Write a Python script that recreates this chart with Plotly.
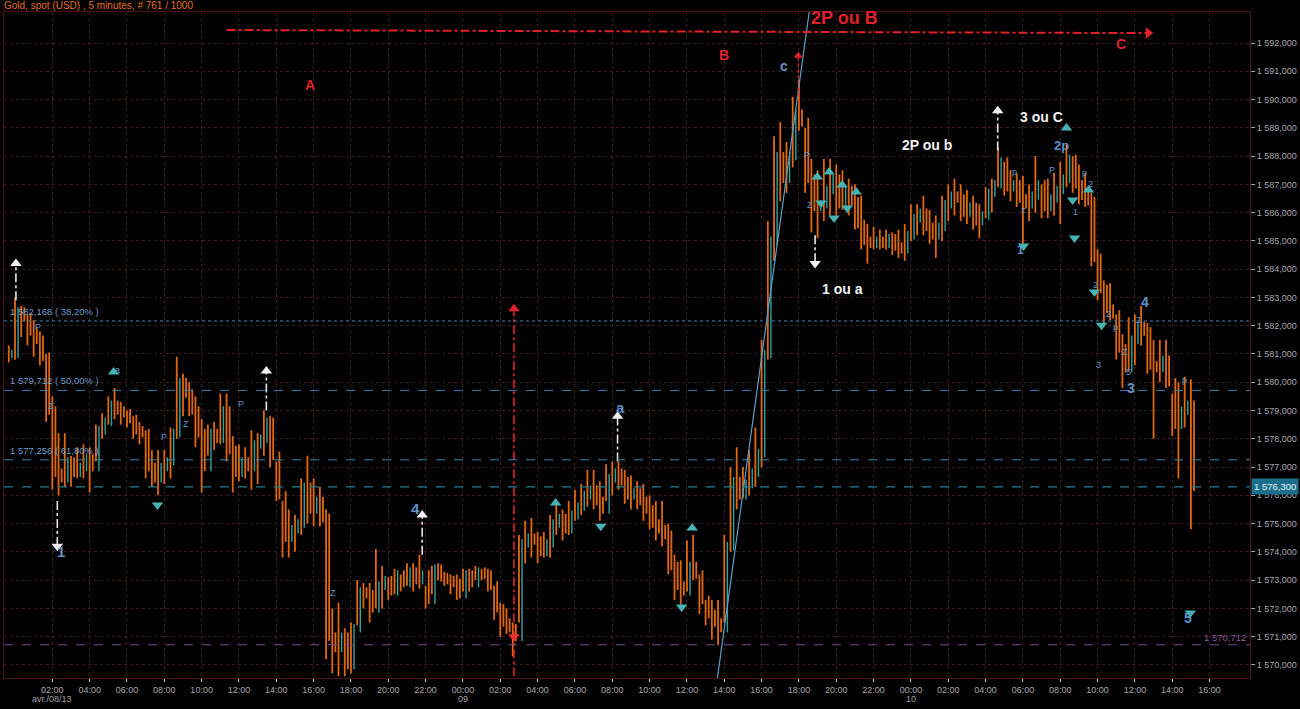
import plotly.graph_objects as go
import pandas as pd

# ---------------- DATA (20-minute bars) ----------------
bar_start = "2013-04-07 23:40"
bar_step = "20min"

bar_high = [
    1581.3, 1583.0, 1582.7, 1582.4, 1582.2, 1581.8, 1581.0, 1579.5, 1578.2, 1578.2,
    1577.4, 1577.7, 1577.8, 1577.7, 1578.5, 1578.9, 1579.5, 1579.8, 1579.3, 1579.0,
    1578.8, 1578.6, 1578.3, 1577.6, 1577.6, 1577.6, 1578.4, 1580.9, 1580.3, 1580.0,
    1579.5, 1578.7, 1578.5, 1578.6, 1579.6, 1579.6, 1578.1, 1577.8, 1577.7, 1578.3,
    1578.2, 1579.0, 1578.8, 1577.2, 1575.8, 1575.5, 1575.3, 1576.6, 1577.4, 1576.6,
    1576.3, 1575.5, 1572.0, 1572.2, 1571.3, 1571.5, 1573.0, 1572.9, 1572.9, 1574.1,
    1573.5, 1573.1, 1573.4, 1573.2, 1573.6, 1573.6, 1573.9, 1572.8, 1573.5, 1573.6,
    1573.3, 1573.2, 1573.2, 1573.4, 1573.4, 1573.5, 1573.4, 1573.4, 1572.8, 1572.2,
    1572.0, 1571.5, 1574.6, 1575.1, 1575.2, 1574.7, 1574.7, 1575.3, 1575.8, 1575.5,
    1575.8, 1576.2, 1576.4, 1576.9, 1576.9, 1576.5, 1577.1, 1577.2, 1577.2, 1576.9,
    1576.7, 1576.5, 1576.4, 1576.0, 1575.8, 1575.8, 1575.0, 1573.9, 1573.7, 1574.4,
    1574.6, 1573.2, 1572.3, 1572.3, 1572.3, 1574.6, 1577.0, 1577.7, 1577.0, 1577.6,
    1578.4, 1581.5, 1585.7, 1588.7, 1589.2, 1588.5, 1590.1, 1590.7, 1589.0, 1587.9,
    1587.5, 1587.9, 1587.9, 1587.7, 1587.5, 1587.2, 1587.0, 1586.6, 1585.6, 1585.5,
    1585.4, 1585.4, 1585.3, 1585.4, 1585.6, 1586.3, 1586.3, 1586.6, 1586.1, 1585.9,
    1586.6, 1587.0, 1587.2, 1587.0, 1586.8, 1586.6, 1586.3, 1586.9, 1587.2, 1588.3,
    1587.8, 1587.5, 1587.4, 1587.3, 1587.0, 1588.0, 1587.0, 1587.2, 1587.4, 1587.8,
    1588.4, 1588.0, 1587.7, 1587.4, 1586.7, 1584.7, 1583.6, 1583.5, 1582.4, 1581.7,
    1582.3, 1582.4, 1582.7, 1582.1, 1581.5, 1581.5, 1581.5, 1579.6, 1580.0, 1580.2,
    1580.1,
]
bar_low = [
    1580.7, 1580.8, 1581.6, 1581.3, 1580.9, 1580.6, 1578.6, 1576.2, 1576.0, 1576.3,
    1576.3, 1576.6, 1576.6, 1576.1, 1577.2, 1578.0, 1578.5, 1578.7, 1578.5, 1578.4,
    1578.0, 1577.8, 1576.6, 1576.3, 1576.0, 1576.4, 1576.6, 1578.0, 1578.8, 1578.8,
    1577.7, 1576.1, 1577.4, 1577.6, 1577.8, 1577.2, 1576.1, 1576.5, 1576.6, 1576.2,
    1576.4, 1577.4, 1577.0, 1575.8, 1573.8, 1573.8, 1574.0, 1574.6, 1575.0, 1574.9,
    1574.9, 1570.2, 1569.7, 1569.6, 1569.6, 1569.7, 1571.4, 1572.0, 1571.5, 1572.0,
    1572.0, 1572.3, 1572.5, 1572.6, 1572.8, 1572.6, 1572.7, 1572.0, 1572.5, 1573.0,
    1572.8, 1572.5, 1572.3, 1572.6, 1572.6, 1573.0, 1573.0, 1572.6, 1571.6, 1571.0,
    1571.1, 1570.3, 1571.5, 1573.6, 1573.8, 1573.6, 1573.8, 1573.8, 1574.6, 1574.4,
    1574.6, 1575.1, 1575.3, 1575.6, 1575.5, 1575.1, 1575.8, 1576.0, 1576.2, 1575.7,
    1575.5, 1575.5, 1575.1, 1574.8, 1574.4, 1574.2, 1573.2, 1572.3, 1572.1, 1572.6,
    1573.0, 1571.8, 1571.4, 1570.9, 1570.7, 1571.5, 1574.0, 1575.5, 1575.9, 1576.0,
    1576.3, 1577.0, 1580.8, 1584.3, 1586.4, 1586.7, 1587.6, 1588.9, 1586.7, 1585.3,
    1585.1, 1585.7, 1585.9, 1585.9, 1586.1, 1585.9, 1585.4, 1584.7, 1584.2, 1584.7,
    1584.7, 1584.7, 1584.5, 1584.4, 1584.3, 1585.0, 1585.2, 1585.2, 1584.9, 1584.4,
    1585.0, 1585.7, 1585.9, 1585.7, 1585.6, 1585.4, 1585.1, 1585.8, 1586.0, 1586.9,
    1586.6, 1586.4, 1586.2, 1584.9, 1585.7, 1586.0, 1585.8, 1585.8, 1585.9, 1585.6,
    1586.9, 1586.7, 1586.3, 1586.2, 1584.1, 1582.9, 1582.0, 1582.2, 1580.8, 1579.8,
    1580.4, 1580.6, 1581.3, 1580.3, 1578.0, 1580.0, 1579.8, 1578.1, 1576.6, 1578.4,
    1574.8,
]
bar_close = [
    1581.0, 1582.5, 1582.3, 1581.8, 1581.5, 1580.9, 1579.0, 1576.8, 1576.6, 1577.2,
    1576.8, 1577.0, 1577.3, 1577.0, 1578.3, 1578.6, 1579.2, 1579.0, 1578.9, 1578.7,
    1578.3, 1578.2, 1577.0, 1576.6, 1577.0, 1577.2, 1578.2, 1580.0, 1579.6, 1579.0,
    1578.2, 1577.0, 1578.2, 1578.0, 1579.0, 1577.6, 1576.8, 1577.2, 1577.0, 1577.8,
    1578.0, 1578.6, 1577.4, 1576.0, 1574.5, 1574.8, 1575.0, 1576.3, 1575.5, 1575.8,
    1575.2, 1571.0, 1570.6, 1571.0, 1570.0, 1571.3, 1572.6, 1572.5, 1572.0, 1572.8,
    1573.0, 1572.6, 1573.2, 1572.9, 1573.3, 1573.0, 1573.2, 1572.3, 1573.4, 1573.1,
    1573.0, 1572.9, 1572.5, 1573.2, 1572.9, 1573.3, 1573.2, 1572.8, 1572.0, 1571.5,
    1571.3, 1571.0, 1574.3, 1574.5, 1574.4, 1574.0, 1574.3, 1575.0, 1575.2, 1574.8,
    1575.3, 1575.6, 1576.0, 1576.2, 1575.8, 1575.5, 1576.6, 1576.8, 1576.5, 1576.0,
    1576.1, 1575.8, 1575.5, 1575.0, 1574.8, 1574.6, 1573.5, 1572.8, 1572.6, 1573.5,
    1573.2, 1572.3, 1571.8, 1571.5, 1571.3, 1574.2, 1576.5, 1576.0, 1576.4, 1576.8,
    1577.5, 1581.0, 1585.0, 1588.0, 1587.2, 1588.0, 1589.5, 1589.2, 1587.2, 1586.2,
    1586.3, 1586.8, 1587.2, 1586.3, 1586.8, 1586.4, 1585.6, 1585.0, 1584.9, 1585.0,
    1584.9, 1585.1, 1584.8, 1584.7, 1585.2, 1585.8, 1586.0, 1585.5, 1585.2, 1585.5,
    1586.3, 1586.6, 1586.5, 1586.0, 1586.2, 1585.7, 1585.9, 1586.7, 1587.0, 1587.8,
    1586.9, 1587.0, 1586.5, 1586.3, 1586.6, 1587.0, 1586.2, 1586.5, 1586.8, 1587.2,
    1587.9, 1587.0, 1586.6, 1586.4, 1584.4, 1583.3, 1582.6, 1582.4, 1581.2, 1580.5,
    1581.5, 1582.0, 1581.8, 1580.6, 1580.5, 1580.8, 1580.0, 1578.5, 1579.0, 1579.2,
    1576.3,
]

# Fibonacci / reference levels
fib_levels = [1582.168, 1579.712, 1577.256, 1569.343]
fib_labels = ["1 582,168 ( 38,20% )", "1 579,712 ( 50,00% )",
              "1 577,256 ( 61,80% )", "1 569,343 ( 38,20% )"]
last_price = 1576.300
target_level = 1570.712

# y tick values
y_ticks = list(range(1570, 1593))

# x tick times
x_ticks = pd.date_range("2013-04-08 02:00", "2013-04-10 16:00", freq="2h")
day_labels = [("2013-04-08 02:00", "avr./08/13"), ("2013-04-09 00:00", "09"), ("2013-04-10 00:00", "10")]

# dash-dot white arrows (time, from price, to price)
white_arrows = [
    ("2013-04-08 00:03", 1582.9, 1584.2),
    ("2013-04-08 02:16", 1575.8, 1574.2),
    ("2013-04-08 13:28", 1579.0, 1580.4),
    ("2013-04-08 21:49", 1573.9, 1575.3),
    ("2013-04-09 08:17", 1577.2, 1578.8),
    ("2013-04-09 18:52", 1585.2, 1584.2),
    ("2013-04-10 04:39", 1588.2, 1589.6),
]

# teal signal triangles (time, price)
tri_up = [
    ("2013-04-08 05:17", 1580.36), ("2013-04-09 04:58", 1575.73), ("2013-04-09 12:17", 1574.84),
    ("2013-04-09 18:59", 1587.26), ("2013-04-09 19:37", 1587.44), ("2013-04-09 20:19", 1586.98),
    ("2013-04-09 21:04", 1586.73), ("2013-04-10 08:20", 1588.99), ("2013-04-10 09:31", 1586.80),
]
tri_down = [
    ("2013-04-08 07:38", 1575.66), ("2013-04-09 07:23", 1574.91), ("2013-04-09 11:43", 1572.05),
    ("2013-04-09 19:11", 1586.34), ("2013-04-09 19:53", 1585.81), ("2013-04-09 20:35", 1586.16),
    ("2013-04-10 06:02", 1584.82), ("2013-04-10 08:40", 1586.45), ("2013-04-10 08:46", 1585.10),
    ("2013-04-10 09:50", 1583.19), ("2013-04-10 10:13", 1582.02), ("2013-04-10 14:58", 1571.84),
]

# wave labels: (text, time, price, colour, size, bold)
RED, WHITE, BLUE = "#e0202a", "#f0f0f0", "#5f93c8"
wave_labels = [
    ("A", "2013-04-08 15:49", 1590.50, RED, 14, True),
    ("B", "2013-04-09 14:00", 1591.58, RED, 14, True),
    ("C", "2013-04-10 11:14", 1591.95, RED, 14, True),
    ("2P ou B", "2013-04-09 20:25", 1592.88, RED, 18, True),
    ("1 ou a", "2013-04-09 20:19", 1583.30, WHITE, 14, True),
    ("2P ou b", "2013-04-10 00:52", 1588.39, WHITE, 14, True),
    ("3 ou C", "2013-04-10 07:00", 1589.38, WHITE, 14, True),
    ("c", "2013-04-09 17:13", 1591.19, BLUE, 14, True),
    ("1", "2013-04-08 02:28", 1574.00, BLUE, 15, True),
    ("4", "2013-04-08 21:26", 1575.55, BLUE, 15, True),
    ("a", "2013-04-09 08:27", 1579.12, BLUE, 15, True),
    ("2p", "2013-04-10 08:04", 1588.36, BLUE, 13, True),
    ("4", "2013-04-10 12:31", 1582.84, BLUE, 14, True),
    ("3", "2013-04-10 11:46", 1579.80, BLUE, 14, True),
    ("5", "2013-04-10 14:52", 1571.66, BLUE, 14, True),
    ("1", "2013-04-10 05:53", 1584.68, BLUE, 12, True),
    ("P", "2013-04-08 01:14", 1581.95, BLUE, 9, False),
    ("Z", "2013-04-08 01:56", 1579.16, BLUE, 9, False),
    ("a", "2013-04-08 05:30", 1580.45, BLUE, 9, False),
    ("P", "2013-04-08 07:58", 1578.06, BLUE, 9, False),
    ("Z", "2013-04-08 09:11", 1578.52, BLUE, 9, False),
    ("P", "2013-04-08 12:05", 1579.23, BLUE, 9, False),
    ("Z", "2013-04-08 17:03", 1572.54, BLUE, 9, False),
    ("P", "2013-04-09 18:26", 1588.04, BLUE, 9, False),
    ("Z", "2013-04-09 18:36", 1586.27, BLUE, 9, False),
    ("p", "2013-04-10 05:34", 1587.44, BLUE, 9, False),
    ("z", "2013-04-10 06:02", 1586.09, BLUE, 9, False),
    ("P", "2013-04-10 07:32", 1587.51, BLUE, 9, False),
    ("p", "2013-04-10 09:18", 1587.40, BLUE, 9, False),
    ("2", "2013-04-10 09:37", 1587.01, BLUE, 9, False),
    ("1", "2013-04-10 08:49", 1586.02, BLUE, 9, False),
    ("2", "2013-04-10 09:53", 1583.45, BLUE, 9, False),
    ("Z", "2013-04-10 10:38", 1582.40, BLUE, 9, False),
    ("p", "2013-04-10 10:59", 1581.97, BLUE, 9, False),
    ("3", "2013-04-10 10:03", 1580.60, BLUE, 9, False),
    ("Z", "2013-04-10 12:14", 1582.20, BLUE, 9, False),
    ("Z", "2013-04-10 11:29", 1581.07, BLUE, 9, False),
    ("5", "2013-04-10 11:39", 1580.35, BLUE, 9, False),
    ("p", "2013-04-10 14:39", 1580.08, BLUE, 9, False),
]

# red projection lines
red_h_line = [("2013-04-08 11:20", 1592.46), ("2013-04-10 12:43", 1592.35)]
red_v_arrow = ("2013-04-09 02:44", 1569.60, 1582.60)
red_v_mark = ("2013-04-09 02:44", 1571.00)
red_top_arrow = ("2013-04-09 17:58", 1589.90, 1591.55)
trend_line = [("2013-04-09 13:38", 1569.54), ("2013-04-09 18:33", 1593.10)]

# ---------------- FIGURE ----------------
ORANGE = "#e2680f"
TEAL = "#2fa3a3"
TRI = "#46b4b4"
FONT = "Liberation Sans"

times = pd.date_range(bar_start, periods=len(bar_close), freq=bar_step)
body_shift = pd.Timedelta(minutes=10)
bar_open = [bar_close[0]] + bar_close[:-1]

fig = go.Figure()

hl_x, hl_y = [], []
up_x, up_y, dn_x, dn_y = [], [], [], []
for t, o, h, l, c in zip(times, bar_open, bar_high, bar_low, bar_close):
    hl_x += [t, t, None]
    hl_y += [l, h, None]
    tb = t + body_shift
    if c >= o:
        up_x += [tb, tb, None]
        up_y += [min(o, c) - 0.15, max(o, c) + 0.15, None]
    else:
        dn_x += [tb, tb, None]
        dn_y += [min(o, c) - 0.15, max(o, c) + 0.15, None]

fig.add_trace(go.Scatter(x=hl_x, y=hl_y, mode="lines", line=dict(color=ORANGE, width=1.8), hoverinfo="skip"))
fig.add_trace(go.Scatter(x=dn_x, y=dn_y, mode="lines", line=dict(color=ORANGE, width=1.8), hoverinfo="skip"))
fig.add_trace(go.Scatter(x=up_x, y=up_y, mode="lines", line=dict(color=TEAL, width=1.4), hoverinfo="skip"))

# trend line
fig.add_trace(go.Scatter(x=[p[0] for p in trend_line], y=[p[1] for p in trend_line], mode="lines",
                         line=dict(color="#5aa0c8", width=1.2), hoverinfo="skip"))

# red horizontal projection
fig.add_trace(go.Scatter(x=[p[0] for p in red_h_line], y=[p[1] for p in red_h_line], mode="lines",
                         line=dict(color=RED, width=2, dash="dashdot"), hoverinfo="skip"))
fig.add_trace(go.Scatter(x=[red_h_line[1][0]], y=[red_h_line[1][1]], mode="markers",
                         marker=dict(symbol="triangle-right", size=10, color=RED), hoverinfo="skip"))

# red vertical arrow
fig.add_trace(go.Scatter(x=[red_v_arrow[0]] * 2, y=[red_v_arrow[1], red_v_arrow[2]], mode="lines",
                         line=dict(color=RED, width=1.6, dash="dashdot"), hoverinfo="skip"))
fig.add_trace(go.Scatter(x=[red_v_arrow[0]], y=[red_v_arrow[2]], mode="markers",
                         marker=dict(symbol="triangle-up", size=10, color=RED), hoverinfo="skip"))
fig.add_trace(go.Scatter(x=[red_v_mark[0]], y=[red_v_mark[1]], mode="markers",
                         marker=dict(symbol="triangle-down", size=10, color="#e83030"), hoverinfo="skip"))

# red small arrow at top
fig.add_trace(go.Scatter(x=[red_top_arrow[0]] * 2, y=[red_top_arrow[1], red_top_arrow[2]], mode="lines",
                         line=dict(color=RED, width=1.5, dash="dot"), hoverinfo="skip"))
fig.add_trace(go.Scatter(x=[red_top_arrow[0]], y=[red_top_arrow[2]], mode="markers",
                         marker=dict(symbol="triangle-up", size=8, color=RED), hoverinfo="skip"))

# white dash-dot arrows
for t, p0, p1 in white_arrows:
    fig.add_trace(go.Scatter(x=[t, t], y=[p0, p1], mode="lines",
                             line=dict(color="#e6e6e6", width=1.6, dash="dashdot"), hoverinfo="skip"))
    fig.add_trace(go.Scatter(x=[t], y=[p1], mode="markers",
                             marker=dict(symbol="triangle-up" if p1 > p0 else "triangle-down",
                                         size=10, color="#f2f2f2"), hoverinfo="skip"))

# teal triangles
fig.add_trace(go.Scatter(x=[p[0] for p in tri_up], y=[p[1] for p in tri_up], mode="markers",
                         marker=dict(symbol="triangle-up", size=10, color=TRI), hoverinfo="skip"))
fig.add_trace(go.Scatter(x=[p[0] for p in tri_down], y=[p[1] for p in tri_down], mode="markers",
                         marker=dict(symbol="triangle-down", size=10, color=TRI), hoverinfo="skip"))

shapes = []
annotations = []

# fib lines + labels
fib_dash = ["dot", "dash", "dash", "dash"]
for lvl, lab, dsh in zip(fib_levels, fib_labels, fib_dash):
    shapes.append(dict(type="line", xref="paper", x0=0, x1=1, yref="y", y0=lvl, y1=lvl,
                       line=dict(color="#3b82ad", width=1, dash=dsh)))
    color = "#22c022" if lvl < 1570 else "#6f9cc8"
    annotations.append(dict(text=lab, xref="paper", x=0.003, xanchor="left", yref="y", y=lvl,
                            yanchor="bottom", yshift=2, showarrow=False,
                            font=dict(family=FONT, size=9.5, color=color)))

# last price line and label
shapes.append(dict(type="line", xref="paper", x0=0, x1=1, yref="y", y0=last_price, y1=last_price,
                   line=dict(color="#237f92", width=1.2, dash="dash")))
annotations.append(dict(text="1 576,300", xref="paper", x=1, xanchor="left", xshift=1,
                        yref="y", y=last_price, showarrow=False, bgcolor="#1c6f8c",
                        font=dict(family=FONT, size=9.5, color="#e8f4f8"), borderpad=2))

# target level
shapes.append(dict(type="line", xref="paper", x0=0, x1=1, yref="y", y0=target_level, y1=target_level,
                   line=dict(color="#7a4a8c", width=1, dash="dash")))
annotations.append(dict(text="1 570,712", xref="paper", x=0.998, xanchor="right", yref="y", y=target_level,
                        yanchor="bottom", yshift=0, showarrow=False,
                        font=dict(family=FONT, size=9.5, color="#8a5a9c")))

# wave labels
for txt, t, p, col, sz, bold in wave_labels:
    annotations.append(dict(text=f"<b>{txt}</b>" if bold else txt, x=t, y=p, xref="x", yref="y",
                            showarrow=False, font=dict(family=FONT, size=sz, color=col)))

# title
annotations.append(dict(text="Gold, spot (USD) , 5 minutes, # 761 / 1000", xref="paper", x=0, xanchor="left",
                        yref="paper", y=1, yanchor="bottom", yshift=-1, xshift=-2, showarrow=False,
                        font=dict(family=FONT, size=10, color="#e07020")))

# day labels
for t, lab in day_labels:
    annotations.append(dict(text=lab, x=t, xref="x", yref="paper", y=0, yanchor="top", yshift=-14,
                            showarrow=False, font=dict(family=FONT, size=9, color="#a0a0a0")))

def fmt_price(v):
    s = f"{v:,.3f}"
    return s.replace(",", " ").replace(".", ",")

fig.update_layout(
    width=1300, height=709,
    margin=dict(l=3, r=48, t=12, b=31),
    paper_bgcolor="black", plot_bgcolor="black",
    showlegend=False,
    shapes=shapes, annotations=annotations,
    xaxis=dict(type="date", range=["2013-04-07 23:24:40", "2013-04-10 18:10:00"],
               tickvals=list(x_ticks), tickformat="%H:%M",
               showgrid=True, gridcolor="#3a1d1d", griddash="dot", gridwidth=1,
               ticks="outside", ticklen=3, tickcolor="#c8c8c8",
               tickfont=dict(family=FONT, size=9, color="#a8a8a8"),
               showline=True, linecolor="#4e1414", mirror=True, zeroline=False),
    yaxis=dict(side="right", range=[1569.538, 1593.097],
               tickvals=y_ticks, ticktext=[fmt_price(v) for v in y_ticks],
               showgrid=True, gridcolor="#3a1d1d", griddash="dot", gridwidth=1,
               ticks="outside", ticklen=4, tickcolor="#a0a0a0",
               tickfont=dict(family=FONT, size=9, color="#a8a8a8"),
               showline=True, linecolor="#4e1414", mirror=True, zeroline=False),
)

fig.write_html("out.html", config={"displayModeBar": False},
               post_script="document.body.style.margin='0';document.body.style.background='black';"
                           "document.body.style.overflow='hidden';")
